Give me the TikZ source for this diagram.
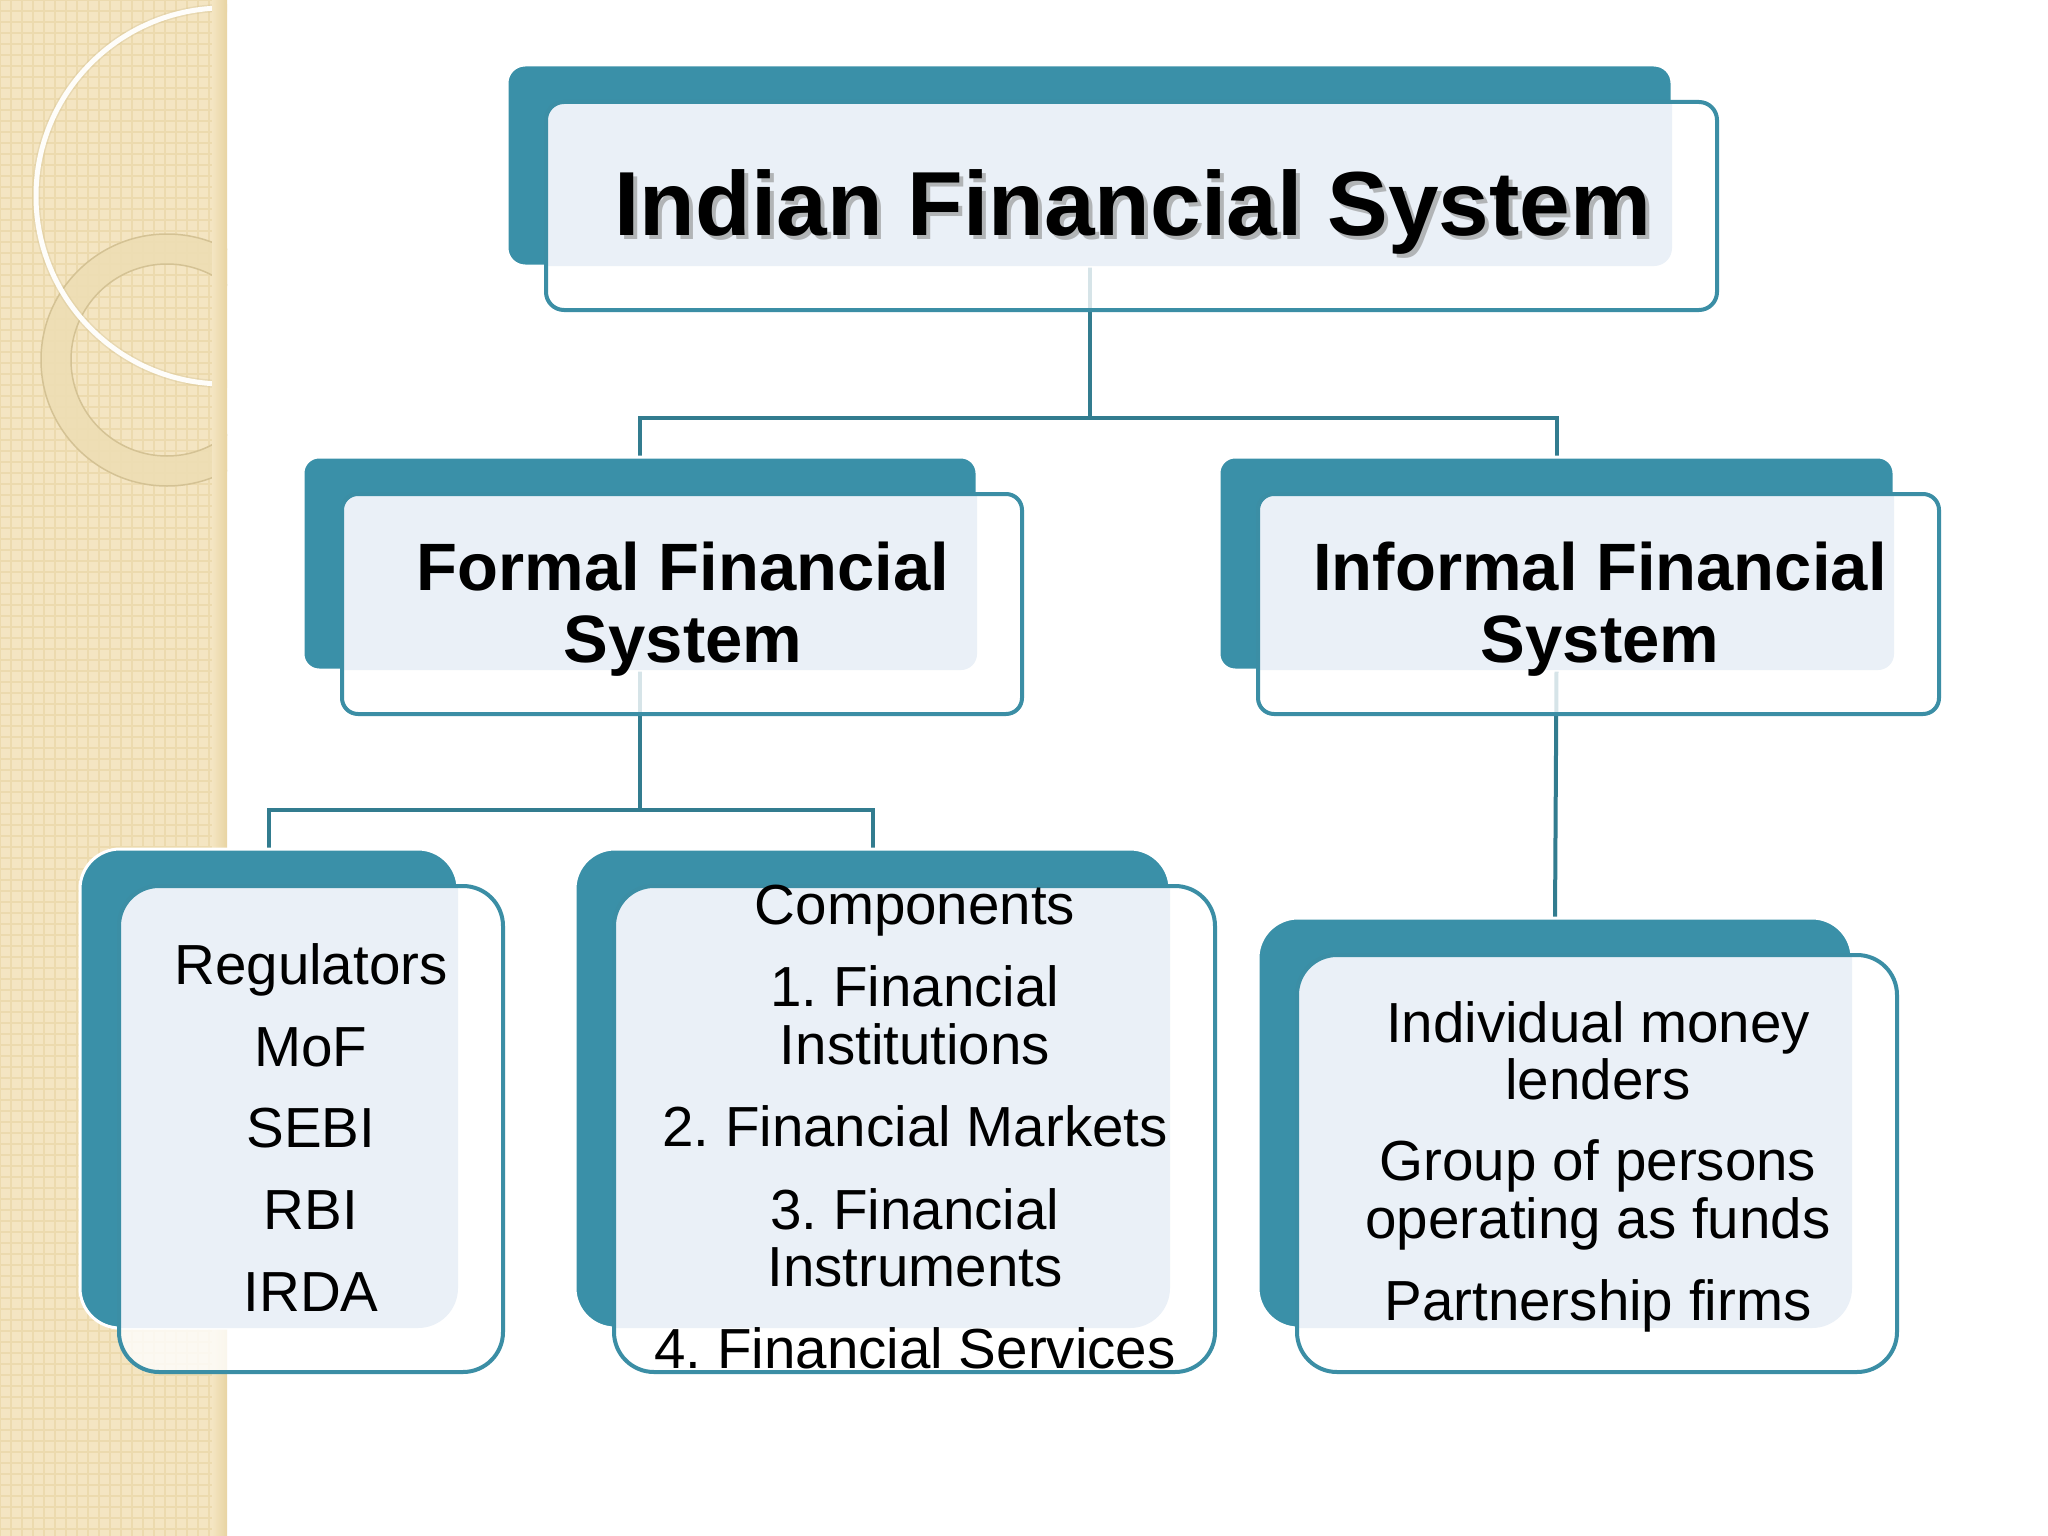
\documentclass[tikz,border=0pt]{standalone}
\usepackage{fontspec}
\setmainfont{Liberation Sans}
\usetikzlibrary{calc}
\definecolor{tealback}{RGB}{58,144,168}
\definecolor{tealline}{RGB}{59,142,165}
\definecolor{lightfill}{RGB}{234,240,247}
\definecolor{connc}{RGB}{50,124,143}
\definecolor{beige}{RGB}{244,229,194}
\definecolor{beigedark}{RGB}{232,212,162}
\definecolor{beigelight}{RGB}{248,239,216}
\definecolor{ringc}{RGB}{238,222,180}
\definecolor{ringedge}{RGB}{212,194,148}
\pgfdeclarelayer{lines}
\pgfdeclarelayer{bg}
\pgfsetlayers{bg,lines,main}
\newcommand\ifsbox[6]{% name, x1, y1, x2, y2, radius
  \coordinate (#1-bn) at ({(#2+#4)/2},#3);
  \coordinate (#1-bs) at ({(#2+#4)/2},#5);
  \fill[tealback, draw=white, line width=3bp, rounded corners=#6] (#2,#3) rectangle (#4,#5);
  \fill[white, opacity=0.8, rounded corners=#6] (#2+39,#3+37) rectangle (#4+45,#5+44);
  \begin{scope}
    \clip[rounded corners=#6] (#2,#3) rectangle (#4,#5);
    \fill[lightfill, rounded corners=#6] (#2+39,#3+37) rectangle (#4+45,#5+44);
  \end{scope}
  \draw[tealline, line width=4bp, rounded corners=#6] (#2+39,#3+37) rectangle (#4+45,#5+44);
}
\tikzset{
  conn/.style={connc, line width=4bp},
  titletxt/.style={inner sep=0, anchor=base, font=\bfseries\fontsize{91bp}{91bp}\selectfont},
  headtxt/.style={inner sep=0, anchor=base, font=\bfseries\fontsize{67bp}{67bp}\selectfont},
  bodytxt/.style={inner sep=0, anchor=base, font=\frenchspacing\fontsize{56.5bp}{56.5bp}\selectfont},
}
\begin{document}
\begin{tikzpicture}[x=1bp, y=-1bp]
\useasboundingbox (0,0) rectangle (2048,1536);
\begin{pgfonlayer}{bg}
\fill[white] (0,0) rectangle (2048,1536);
\end{pgfonlayer}
% decorative strip
\begin{scope}
  \clip (0,0) rectangle (227,1536);
  \fill[beige] (0,0) rectangle (227,1536);
  \draw[beigedark, line width=1.6bp, step=11bp, opacity=0.6] (0,0) grid (227,1536);
  \fill[beigelight, opacity=0.75] (0,0) -- (182,0) arc[start angle=0, end angle=-90, radius=182] -- cycle;
  \draw[ringedge, line width=1.2bp] (182,0) arc[start angle=0, end angle=-90, radius=182];
  \fill[ringc, even odd rule, opacity=0.9] (167,360) circle[radius=126] (167,360) circle[radius=96];
  \draw[ringedge, line width=1.5bp] (167,360) circle[radius=126] (167,360) circle[radius=96];
  \draw[ringedge, line width=8bp, opacity=0.35] (224,196) circle[radius=188];
  \draw[white!92!beige, line width=5bp] (224,196) circle[radius=188];
  \shade[left color=beige, right color=beigedark] (212,0) rectangle (227,1536);
\end{scope}
% boxes
\ifsbox{title}{507}{65}{1672}{266}{18bp}
\ifsbox{formal}{303}{457}{977}{670}{16bp}
\ifsbox{informal}{1219}{457}{1894}{670}{16bp}
\ifsbox{reg}{80}{849}{458}{1328}{40bp}
\ifsbox{comp}{575}{849}{1170}{1328}{40bp}
\ifsbox{indiv}{1258}{918}{1852}{1328}{40bp}
% connectors
\begin{pgfonlayer}{lines}
  \coordinate (j1) at ($(title-bs)+(0,152)$);
  \coordinate (j2) at ($(formal-bs)+(0,140)$);
  \draw[conn] (title-bs) -- (j1);
  \draw[conn] (formal-bn) |- (j1) -| (informal-bn);
  \draw[conn] (formal-bs) -- (j2);
  \draw[conn] (reg-bn) |- (j2) -| (comp-bn);
  \draw[conn] (informal-bs) -- (indiv-bn);
\end{pgfonlayer}
% texts
\node[titletxt, text=black!45, opacity=0.6] (title-shadow) at (1137,239) {Indian Financial System};
\node[titletxt] (title-t) at (1133,235) {Indian Financial System};
\node[headtxt] (formal-t1) at (683,590) {Formal Financial};
\node[headtxt] (formal-t2) at (683,662) {System};
\node[headtxt] (informal-t1) at (1600,590) {Informal Financial};
\node[headtxt] (informal-t2) at (1600,662) {System};
\node[bodytxt] (reg-t1) at (311,984) {Regulators};
\node[bodytxt] (reg-t2) at (311,1066) {MoF};
\node[bodytxt] (reg-t3) at (311,1147) {SEBI};
\node[bodytxt] (reg-t4) at (311,1229) {RBI};
\node[bodytxt] (reg-t5) at (311,1311) {IRDA};
\node[bodytxt] (comp-t1) at (915,924) {Components};
\node[bodytxt] (comp-t2) at (915,1006) {1. Financial};
\node[bodytxt] (comp-t3) at (915,1064) {Institutions};
\node[bodytxt] (comp-t4) at (915,1146) {2. Financial Markets};
\node[bodytxt] (comp-t5) at (915,1229) {3. Financial};
\node[bodytxt] (comp-t6) at (915,1286) {Instruments};
\node[bodytxt] (comp-t7) at (915,1368) {4. Financial Services};
\node[bodytxt] (indiv-t1) at (1598,1042) {Individual money};
\node[bodytxt] (indiv-t2) at (1598,1099) {lenders};
\node[bodytxt] (indiv-t3) at (1598,1180) {Group of persons};
\node[bodytxt] (indiv-t4) at (1598,1238) {operating as funds};
\node[bodytxt] (indiv-t5) at (1598,1320) {Partnership firms};
\end{tikzpicture}
\end{document}
